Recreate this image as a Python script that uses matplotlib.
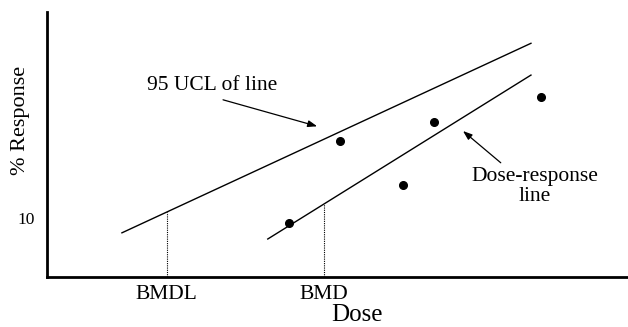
import numpy as np
import matplotlib
matplotlib.use("Agg")
import matplotlib.pyplot as plt

plt.rcParams['font.family'] = ['Liberation Serif', 'DejaVu Serif']

# Data (dose units arbitrary 0-100, response %)
dose_points = [41.7, 50.4, 61.3, 66.6, 85.0]
resp_points = [9.2, 23.1, 15.6, 26.3, 30.6]

ucl_x = [12.9, 83.3]
ucl_y = [7.5, 39.7]
dr_x = [38.0, 83.3]
dr_y = [6.45, 34.3]

bmdl = 20.6
bmd = 47.7
ytick_vals = [10]
ytick_labels = ["10"]

fig = plt.figure(figsize=(6.28, 3.27), dpi=100)
ax = fig.add_axes([0.0748, 0.153, 0.9252, 0.81])
ax.set_xlim(0, 100)
ax.set_ylim(0, 45)

ax.plot(ucl_x, ucl_y, color='black', lw=1.0)
ax.plot(dr_x, dr_y, color='black', lw=1.0)
ax.plot(dose_points, resp_points, 'o', color='black', ms=5.5)

y_bmdl = np.interp(bmdl, ucl_x, ucl_y)
y_bmd = np.interp(bmd, dr_x, dr_y)
ax.plot([bmdl, bmdl], [0, y_bmdl], color='black', lw=0.8, ls=(0, (1, 1)))
ax.plot([bmd, bmd], [0, y_bmd], color='black', lw=0.8, ls=(0, (1, 1)))

for s in ['top', 'right']:
    ax.spines[s].set_visible(False)
for s in ['left', 'bottom']:
    ax.spines[s].set_linewidth(2.0)

ax.set_yticks(ytick_vals)
ax.set_yticklabels(ytick_labels, fontsize=12.5)
ax.set_xticks([bmdl, bmd])
ax.set_xticklabels(["BMDL", "BMD"], fontsize=15.5)
ax.tick_params(length=0)
ax.tick_params(axis='x', pad=6)
ax.tick_params(axis='y', pad=9)

ax.set_xlabel("Dose", fontsize=18)
ax.xaxis.set_label_coords(0.534, -0.103)
ax.set_ylabel("% Response", fontsize=16)
ax.yaxis.set_label_coords(-0.029, 0.592)

arrow = dict(arrowstyle='-|>,head_length=0.55,head_width=0.2',
             color='black', lw=0.9, shrinkA=0, shrinkB=0)
ax.annotate("", xy=(46.5, 25.6), xytext=(30.3, 30.1), arrowprops=arrow)
ax.text(28.4, 32.6, "95 UCL of line", fontsize=15.5, ha='center', va='center')
ax.annotate("", xy=(71.6, 24.8), xytext=(78.1, 19.4), arrowprops=arrow)
ax.text(84.0, 15.4, "Dose-response\nline", fontsize=15.5, ha='center',
        va='center', linespacing=1.05)

fig.savefig("out.png", dpi=100)
